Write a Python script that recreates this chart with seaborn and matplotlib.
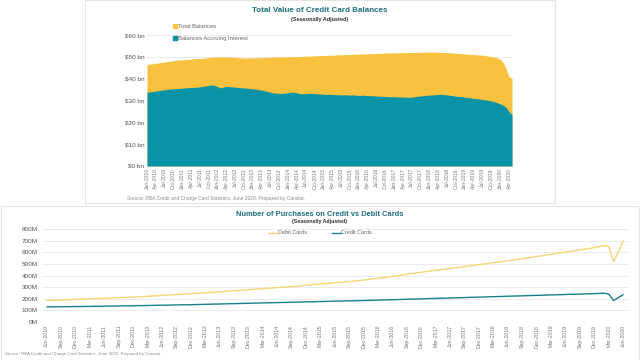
import numpy as np
import pandas as pd
import matplotlib
matplotlib.use("Agg")
import matplotlib.pyplot as plt
from matplotlib.lines import Line2D
from matplotlib.patches import Rectangle
import seaborn as sns

# ---- top chart data: monthly, Jan-2010 .. May-2020, $bn ----
total_balances = [
    46.5, 46.7, 46.9, 47.1, 47.3, 47.5, 47.7, 47.9, 48.1, 48.3, 48.5, 48.6,
    48.7, 48.8, 48.9, 49.0, 49.2, 49.3, 49.3, 49.4, 49.6, 49.8, 49.9, 50.0,
    50.0, 50.1, 50.1, 50.0, 50.0, 49.9, 49.8, 49.7, 49.6, 49.5, 49.5, 49.6,
    49.6, 49.6, 49.7, 49.7, 49.8, 49.8, 49.9, 49.9, 50.0, 50.0, 50.0, 50.1,
    50.1, 50.1, 50.2, 50.2, 50.3, 50.3, 50.4, 50.4, 50.5, 50.5, 50.6, 50.6,
    50.7, 50.7, 50.8, 50.8, 50.9, 51.0, 51.0, 51.1, 51.1, 51.2, 51.2, 51.3,
    51.3, 51.4, 51.4, 51.5, 51.5, 51.6, 51.6, 51.7, 51.7, 51.8, 51.8, 51.9,
    51.9, 51.9, 52.0, 52.0, 52.0, 52.1, 52.1, 52.1, 52.1, 52.2, 52.2, 52.2,
    52.2, 52.2, 52.2, 52.1, 52.1, 52.0, 52.0, 51.9, 51.8, 51.7, 51.6, 51.5,
    51.4, 51.3, 51.2, 51.1, 51.0, 50.9, 50.8, 50.6, 50.4, 50.2, 49.9, 49.6,
    49.0, 47.5, 44.5, 41.0, 40.2,
]
accruing_interest = [
    33.8, 34.0, 34.2, 34.4, 34.6, 34.8, 35.0, 35.2, 35.3, 35.4, 35.5, 35.6,
    35.7, 35.8, 35.9, 36.0, 36.1, 36.2, 36.3, 36.5, 36.7, 37.0, 37.2, 36.9,
    36.4, 35.8, 36.2, 36.5, 36.4, 36.3, 36.2, 36.0, 35.9, 35.8, 35.7, 35.6,
    35.4, 35.2, 35.0, 34.8, 34.5, 34.2, 33.8, 33.5, 33.4, 33.3, 33.3, 33.4,
    33.6, 33.9, 33.8, 33.5, 33.2, 33.1, 33.2, 33.3, 33.3, 33.2, 33.1, 33.0,
    32.9, 32.8, 32.9, 32.8, 32.7, 32.7, 32.6, 32.7, 32.6, 32.5, 32.6, 32.5,
    32.3, 32.5, 32.4, 32.3, 32.2, 32.2, 32.1, 32.0, 32.0, 31.9, 31.8, 31.8,
    31.8, 31.7, 31.7, 31.6, 31.6, 31.5, 31.6, 31.8, 32.0, 32.1, 32.3, 32.4,
    32.5, 32.6, 32.7, 32.8, 32.9, 32.7, 32.6, 32.4, 32.2, 32.0, 31.9, 31.8,
    31.6, 31.4, 31.2, 31.0, 30.9, 30.7, 30.5, 30.3, 30.1, 29.8, 29.5, 29.0,
    28.5, 27.9, 26.8, 25.0, 23.5,
]
top_months = pd.date_range("2010-01-01", periods=len(total_balances), freq="MS")
top_ticks = [f"{d:%b-%Y}" for d in top_months[::3]]
top_yticks = [0, 10, 20, 30, 40, 50, 60]

# ---- bottom chart data: monthly, Jun-2010 .. Jun-2020, millions ----
debit_cards = [
    185, 186, 188, 190, 191, 193, 195,
    196, 198, 199, 201, 203, 205, 206, 208, 210, 212, 213, 215,
    217, 219, 221, 224, 226, 229, 231, 234, 236, 238, 241, 243,
    246, 249, 251, 254, 257, 260, 263, 266, 269, 272, 275, 278,
    281, 284, 287, 290, 293, 296, 299, 302, 305, 308, 312, 316,
    320, 324, 327, 331, 334, 338, 342, 345, 349, 353, 357, 361,
    366, 371, 376, 381, 387, 392, 398, 404, 410, 416, 422, 428,
    434, 439, 445, 450, 456, 461, 466, 472, 477, 483, 488, 494,
    499, 505, 510, 516, 521, 527, 533, 539, 545, 551, 557, 563,
    569, 576, 582, 589, 595, 602, 608, 614, 620, 627, 633, 640,
    648, 660, 650, 520, 605, 695,
]
credit_cards = [
    130, 130, 131, 131, 132, 132, 133,
    133, 134, 134, 135, 135, 136, 137, 137, 138, 139, 139, 140,
    141, 141, 142, 143, 144, 144, 145, 146, 147, 148, 148, 149,
    150, 151, 152, 153, 154, 155, 156, 157, 158, 159, 160, 161,
    162, 163, 164, 165, 166, 167, 168, 169, 170, 171, 172, 173,
    174, 175, 176, 177, 178, 179, 180, 181, 182, 183, 184, 185,
    186, 187, 188, 190, 191, 192, 193, 194, 196, 197, 198, 199,
    200, 202, 203, 204, 205, 207, 208, 209, 210, 212, 213, 214,
    215, 217, 218, 219, 220, 222, 223, 224, 225, 227, 228, 229,
    230, 232, 233, 234, 235, 237, 238, 239, 240, 242, 243, 244,
    246, 248, 240, 185, 210, 235,
]
bottom_months = pd.date_range("2010-06-01", periods=len(debit_cards), freq="MS")
bottom_ticks = [f"{d:%b-%Y}" for d in bottom_months[::3]]
bottom_yticks = [0, 100, 200, 300, 400, 500, 600, 700, 800]

YELLOW = "#F8C23F"
TEAL = "#0A93A6"
DEBIT = "#F5D575"
CREDIT = "#17808A"
TITLE = "#1C6D7D"
SOURCE = "#8C8C8C"

sns.set_theme(style="white")
plt.rcParams["font.family"] = ["Liberation Sans", "DejaVu Sans"]

fig = plt.figure(figsize=(6.4, 3.6), dpi=100)

# panel frames
fig.patches.append(Rectangle((85 / 640, 1 - 203 / 360), 470 / 640, 203 / 360,
                             transform=fig.transFigure, fill=False,
                             edgecolor="#E4E4E4", lw=0.8))
fig.patches.append(Rectangle((0.001, 0.001), 0.998, 1 - 206 / 360,
                             transform=fig.transFigure, fill=False,
                             edgecolor="#E4E4E4", lw=0.8))

# ---------------- top chart ----------------
ax1 = fig.add_axes([147 / 640, 1 - 166 / 360, 365 / 640, 133 / 360])
xs = np.arange(len(total_balances))
for v in top_yticks:
    ax1.axhline(v, color="#E6E6E6", lw=0.6, zorder=0)
ax1.fill_between(xs, 0, total_balances, color=YELLOW, lw=0, zorder=1)
ax1.fill_between(xs, 0, accruing_interest, color=TEAL, lw=0, zorder=2)
ax1.set_xlim(0, len(total_balances) - 1)
ax1.set_ylim(0, 61)
ax1.set_yticks(top_yticks)
ax1.set_yticklabels([f"${v} bn" for v in top_yticks], fontsize=4.6, color="#555555")
ax1.set_xticks(xs[::3])
ax1.set_xticklabels(top_ticks, rotation=90, fontsize=3.6, color="#777777")
ax1.tick_params(axis="both", length=0, pad=2)
ax1.tick_params(axis="x", pad=1.5)
sns.despine(ax=ax1, left=True, bottom=True)
ax1.legend(
    handles=[
        Line2D([], [], marker="s", ls="", color=YELLOW, markersize=2.5, label="Total Balances"),
        Line2D([], [], marker="s", ls="", color=TEAL, markersize=2.5, label="Balances Accruing Interest"),
    ],
    loc="upper left", bbox_to_anchor=(0.055, 1.11), frameon=False,
    fontsize=4.2, labelspacing=1.2, handletextpad=0.1, handlelength=0.8,
    labelcolor="#666666",
)
fig.text(0.5, 1 - 10 / 360, "Total Value of Credit Card Balances", ha="center", va="center",
         fontsize=5.8, fontweight="bold", color=TITLE)
fig.text(0.5, 1 - 19.5 / 360, "(Seasonally Adjusted)", ha="center", va="center",
         fontsize=4.0, fontweight="bold", color="#333333")
fig.text(127 / 640, 1 - 198 / 360,
         "Source: RBA Credit and Charge Card Statistics, June 2020. Prepared by Canstar.",
         ha="left", va="center", fontsize=3.5, color=SOURCE)

# ---------------- bottom chart ----------------
ax2 = fig.add_axes([42 / 640, 1 - 322 / 360, 586 / 640, 93 / 360])
df = pd.DataFrame({
    "idx": np.arange(len(debit_cards)),
    "Debit Cards": debit_cards,
    "Credit Cards": credit_cards,
}).melt(id_vars="idx", var_name="series", value_name="purchases")
for v in bottom_yticks:
    ax2.axhline(v, color="#E8E8E8", lw=0.6, zorder=0)
sns.lineplot(data=df, x="idx", y="purchases", hue="series",
             palette={"Debit Cards": DEBIT, "Credit Cards": CREDIT},
             lw=1.0, ax=ax2, legend=False)
ax2.set_xlim(-1, len(debit_cards))
ax2.set_ylim(0, 800)
ax2.set_yticks(bottom_yticks)
ax2.set_yticklabels([f"{v}M" for v in bottom_yticks], fontsize=4.6, color="#555555")
ax2.set_xticks(np.arange(len(debit_cards))[::3])
ax2.set_xticklabels(bottom_ticks, rotation=90, fontsize=3.8, color="#777777")
ax2.set_xlabel("")
ax2.set_ylabel("")
ax2.tick_params(axis="both", length=0, pad=3)
ax2.tick_params(axis="x", pad=2)
sns.despine(ax=ax2, left=True, bottom=True)
fig.legend(
    handles=[
        Line2D([], [], color=DEBIT, lw=1.0, label="Debit Cards"),
        Line2D([], [], color=CREDIT, lw=1.0, label="Credit Cards"),
    ],
    loc="center", bbox_to_anchor=(0.5, 1 - 233 / 360), ncol=2, frameon=False,
    fontsize=4.0, handlelength=1.6, handletextpad=0.1, columnspacing=4.5,
    labelcolor="#666666",
)
fig.text(0.5, 1 - 214 / 360, "Number of Purchases on Credit vs Debit Cards", ha="center",
         va="center", fontsize=5.4, fontweight="bold", color=TITLE)
fig.text(0.5, 1 - 222 / 360, "(Seasonally Adjusted)", ha="center", va="center",
         fontsize=3.8, fontweight="bold", color="#333333")
fig.text(5 / 640, 1 - 354 / 360,
         "Source: RBA Credit and Charge Card Statistics, June 2020. Prepared by Canstar.",
         ha="left", va="center", fontsize=3.2, color=SOURCE)

fig.savefig("out.png", dpi=100)
